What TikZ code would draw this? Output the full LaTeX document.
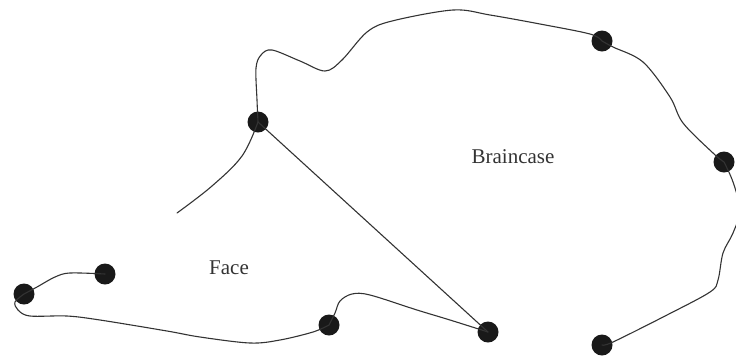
\documentclass[tikz,border=0pt]{standalone}
\usepackage{fontspec}
\setmainfont{Liberation Serif}
\begin{document}
\begin{tikzpicture}[x=1pt,y=-1pt,
  dot/.style={circle,fill=black!90,inner sep=0pt,minimum size=21pt},
  outline/.style={line width=1.1pt,draw=black!80,line join=round,line cap=round},
  lbl/.style={text=black!80,font=\fontsize{21}{24}\selectfont,inner sep=0pt}]
\useasboundingbox (0,0) rectangle (736,360);
\clip (0,0) rectangle (736,360);
% dots
\node[dot] (A) at (258,122) {};
\node[dot] (B) at (602,41) {};
\node[dot] (C) at (724,162) {};
\node[dot] (D) at (602,345) {};
\node[dot] (E) at (488,332) {};
\node[dot] (F) at (329,325) {};
\node[dot] (G) at (105,274) {};
\node[dot] (H) at (24,294) {};
\coordinate (T) at (177,213);
% labels
\node[lbl] (face) at (229,268) {Face};
\node[lbl] (brain) at (513,157) {Braincase};
% braincase outline
\draw[outline] plot[smooth,tension=0.55] coordinates {(A.center) (257,100) (256,68) (261,55) (272,50) (300,61) (325,71) (342,60) (367,32) (392,21) (453,10) (490,15) (540,24) (590,34) (B.center)};
\draw[outline] plot[smooth,tension=0.55] coordinates {(B.center) (613,47) (643,62) (670,97) (683,123) (713,153) (C.center)};
\draw[outline] plot[smooth,tension=0.55] coordinates {(C.center) (733,182) (740,210) (733,233) (723,253) (718,280) (710,292) (667,315) (613,342) (D.center)};
% face
\draw[outline] (A.center) -- (E.center);
\draw[outline] plot[smooth,tension=0.6] coordinates {(A.center) (242,156) (212,186) (T)};
\draw[outline] plot[smooth,tension=0.55] coordinates {(E.center) (450,320) (417,310) (370,295) (352,294) (340,301) (335,313) (F.center)};
\draw[outline] plot[smooth,tension=0.55] coordinates {(F.center) (313,332) (280,340) (250,343) (200,337) (167,331) (100,320) (67,316) (30,316) (18,310) (15,302) (H.center)};
\draw[outline] plot[smooth,tension=0.55] coordinates {(H.center) (37,287) (55,277) (70,273) (G.center)};
\end{tikzpicture}
\end{document}
